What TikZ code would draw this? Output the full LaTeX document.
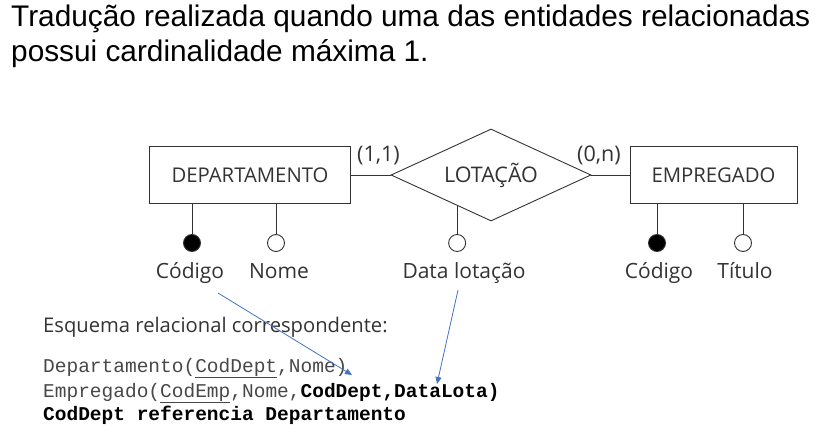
\documentclass[tikz,border=0pt]{standalone}
\usepackage{fontspec}
\setmainfont{Liberation Sans}
\newfontfamily\erfont{Open Sans}
\setmonofont{Liberation Mono}
\usetikzlibrary{shapes.geometric,arrows.meta,calc}
\definecolor{ergray}{HTML}{333333}
\definecolor{arrblue}{HTML}{4472C4}
\begin{document}
\begin{tikzpicture}[x=1pt,y=-1pt,
  ent/.style={draw=ergray, line width=0.9pt, minimum height=57pt, inner sep=0pt, font=\erfont\fontsize{20.3}{24}\selectfont, text=ergray},
  rel/.style={diamond, aspect=2.2, draw=ergray, line width=0.9pt, minimum width=200pt, minimum height=92pt, inner sep=0pt, font=\erfont\fontsize{21.5}{24}\selectfont, text=ergray},
  circ/.style={circle, draw=ergray, line width=0.9pt, minimum size=17pt, inner sep=0pt},
  keyc/.style={circ, fill=black},
  conn/.style={draw=ergray, line width=0.9pt},
  erlbl/.style={anchor=base, inner sep=0pt, font=\erfont\fontsize{21}{24}\selectfont, text=ergray},
  card/.style={anchor=base west, inner sep=0pt, font=\erfont\fontsize{21.5}{24}\selectfont, text=ergray},
  ttl/.style={anchor=base west, inner sep=0pt, font=\fontsize{29.8}{34}\selectfont},
  mono/.style={anchor=base west, inner sep=0pt, font=\ttfamily\fontsize{19.5}{22}\selectfont, text=black!72},
  blarrow/.style={draw=arrblue, line width=0.8pt, -{Triangle[length=7pt,width=6pt]}}
]
\useasboundingbox (0,0) rectangle (820,433);

\node[ttl] (t1) at (11,27) {Tradução realizada quando uma das entidades relacionadas};
\node[ttl] (t2) at (11,62) {possui cardinalidade máxima 1.};

\node[ent, minimum width=201pt] (dept) at (250,175) {DEPARTAMENTO};
\node[rel] (lot) at (491,175) {LOTAÇÃO};
\node[ent, minimum width=167pt] (emp) at (713.5,175) {EMPREGADO};

\draw[conn] (dept.east) -- (lot.west);
\draw[conn] (lot.east) -- (emp.west);
\node[card] (c11) at (357,162) {(1,1)};
\node[card] (c0n) at (577,162) {(0,n)};

% attributes of DEPARTAMENTO
\node[keyc] (dc) at (192,243) {};
\node[circ] (dn) at (276,243) {};
\draw[conn] (dc) -- (dc |- dept.south);
\draw[conn] (dn) -- (dn |- dept.south);
\node[erlbl] (dcl) at (190,278) {Código};
\node[erlbl] (dnl) at (279,278) {Nome};

% attribute of LOTAÇÃO
\coordinate (da) at ($(lot.west)!0.663!(lot.south)$);
\node[circ] (lc) at (da |- dc) {};
\draw[conn] (lc) -- (da);
\node[erlbl] (lcl) at (464,278) {Data lotação};

% attributes of EMPREGADO
\node[keyc] (ec) at (657,243) {};
\node[circ] (et) at (743,243) {};
\draw[conn] (ec) -- (ec |- emp.south);
\draw[conn] (et) -- (et |- emp.south);
\node[erlbl] (ecl) at (659,278) {Código};
\node[erlbl] (etl) at (745,278) {Título};

% relational schema
\node[anchor=base west, inner sep=0pt, font=\erfont\fontsize{20.2}{24}\selectfont, text=ergray] (esq) at (43,332) {Esquema relacional correspondente:};
\node[mono] (m1) at (43,372) {Departamento(\underline{CodDept},Nome)};
\node[mono] (m2) at (43,397) {Empregado(\underline{CodEmp},Nome,\textcolor{black}{\bfseries CodDept,DataLota)}};
\node[mono, text=black] (m3) at (43,420) {\bfseries CodDept referencia Departamento};

% blue arrows
\coordinate (a1s) at (218,293);
\coordinate (a1e) at (352,375);
\coordinate (a2s) at (458,290);
\coordinate (a2e) at (437,384);
\draw[blarrow] (a1s) -- (a1e);
\draw[blarrow] (a2s) -- (a2e);
\end{tikzpicture}
\end{document}
